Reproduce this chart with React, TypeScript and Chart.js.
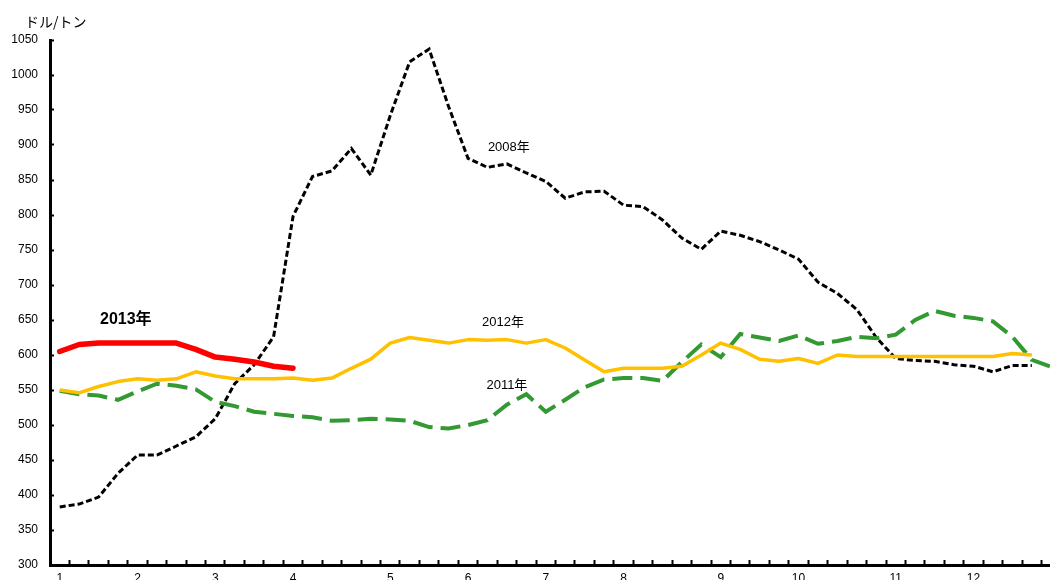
import React, { useEffect, useRef } from "react";
import { Chart, registerables } from "chart.js";

Chart.register(...registerables);

// Weekly price series, US dollars per ton
const WEEK_COUNT = 52;
const monthStartWeeks = [0, 4, 8, 12, 17, 21, 25, 29, 34, 38, 43, 47];
const monthNames = ["1", "2", "3", "4", "5", "6", "7", "8", "9", "10", "11", "12"];

const price2008 = [
  383, 387, 397, 431, 457, 457, 470, 483, 509, 559, 586, 626, 798, 855, 863, 895,
  857, 942, 1019, 1037, 955, 881, 868, 873, 860, 848, 824, 833, 834, 814, 812, 793,
  767, 751, 777, 771, 762, 750, 737, 704, 688, 665, 625, 595, 592, 591, 586, 584,
  576, 585, 585,
];
const price2011 = [
  549, 544, 542, 536, 548, 559, 556, 551, 533, 527, 519, 516, 513, 511, 506, 507,
  509, 508, 506, 497, 495, 500, 507, 529, 544, 519, 536, 554, 565, 567, 567, 563,
  590, 615, 597, 630, 625, 620, 628, 616, 620, 626, 624, 629, 650, 663, 656, 653,
  648, 626, 593, 583,
];
const price2012 = [
  550, 546, 555, 562, 566, 564, 566, 576, 570, 566, 566, 566, 567, 564, 567, 581,
  594, 617, 625, 621, 617, 622, 621, 622, 617, 622, 610, 593, 576, 581, 581, 581,
  584, 600, 617, 608, 594, 591, 595, 588, 600, 598, 598, 598, 598, 598, 598, 598,
  598, 602, 600,
];
const price2013 = [605, 615, 617, 617, 617, 617, 617, 608, 597, 594, 590, 584, 581];

const yMin = 300;
const yMax = 1050;
const yStep = 50;
const unitLabel = "ドル/トン";

// Series captions, anchored in data space (week index, price)
const captions = [
  { text: "2013年", week: 3.4, value: 651, bold: true, size: 16 },
  { text: "2008年", week: 23.1, value: 896, bold: false, size: 13 },
  { text: "2012年", week: 22.8, value: 647, bold: false, size: 13 },
  { text: "2011年", week: 23.0, value: 556, bold: false, size: 13 },
];

const weekLabels = Array.from({ length: WEEK_COUNT }, (_, i) => {
  const m = monthStartWeeks.indexOf(i);
  return m >= 0 ? monthNames[m] : "";
});

const FONT = '"Liberation Sans", Arial, "Noto Sans CJK JP", sans-serif';

const captionPlugin = {
  id: "captions",
  afterDraw(chart: any) {
    const { ctx, scales } = chart;
    ctx.save();
    ctx.fillStyle = "#000";
    ctx.textBaseline = "middle";
    ctx.textAlign = "left";
    ctx.font = `14px "Noto Sans CJK JP", sans-serif`;
    ctx.fillText(unitLabel, 25, 22);
    ctx.textAlign = "center";
    for (const c of captions) {
      ctx.font = `${c.bold ? "bold " : ""}${c.size}px ${FONT}`;
      const x = scales.x.getPixelForValue(c.week);
      const y = scales.y.getPixelForValue(c.value);
      ctx.fillText(c.text, x, y);
    }
    ctx.restore();
  },
};

export default function App() {
  const ref = useRef<HTMLCanvasElement | null>(null);

  useEffect(() => {
    document.body.style.margin = "0";
    const canvas = ref.current;
    if (!canvas) return;
    const chart = new Chart(canvas, {
      type: "line",
      data: {
        labels: weekLabels,
        datasets: [
          {
            label: "2013年",
            data: price2013,
            borderColor: "#ff0000",
            borderWidth: 5.5,
            pointRadius: 0,
            tension: 0,
            borderJoinStyle: "round",
            borderCapStyle: "round",
          },
          {
            label: "2012年",
            data: price2012,
            borderColor: "#ffc000",
            borderWidth: 3.5,
            pointRadius: 0,
            tension: 0,
            borderJoinStyle: "round",
          },
          {
            label: "2011年",
            data: price2011,
            borderColor: "#339933",
            borderWidth: 4,
            borderDash: [20, 8],
            pointRadius: 0,
            tension: 0,
          },
          {
            label: "2008年",
            data: price2008,
            borderColor: "#000000",
            borderWidth: 3,
            borderDash: [6, 3],
            pointRadius: 0,
            tension: 0,
          },
        ],
      },
      options: {
        responsive: false,
        animation: false,
        layout: { padding: { top: 40, right: 3, left: 0, bottom: 0 } },
        plugins: {
          legend: { display: false },
          tooltip: { enabled: false },
          title: { display: false },
        },
        scales: {
          x: {
            type: "category",
            offset: true,
            afterFit: (s: any) => {
              s.height = 27;
            },
            grid: {
              offset: true,
              drawOnChartArea: false,
              drawTicks: true,
              tickLength: -5,
              tickWidth: 2,
              tickColor: "#000",
              color: "#000",
            },
            border: { display: true, color: "#000", width: 3 },
            ticks: {
              autoSkip: false,
              maxRotation: 0,
              minRotation: 0,
              padding: 11,
              color: "#000",
              font: { family: FONT, size: 12 },
            },
          },
          y: {
            min: yMin,
            max: yMax,
            afterFit: (s: any) => {
              s.width = 50;
            },
            grid: {
              drawOnChartArea: false,
              drawTicks: true,
              tickLength: -4,
              tickWidth: 2,
              tickColor: "#000",
              color: "#000",
            },
            border: { display: true, color: "#000", width: 3 },
            ticks: {
              stepSize: yStep,
              padding: 16,
              color: "#000",
              font: { family: FONT, size: 12 },
              callback: (v: any) => String(v),
            },
          },
        },
      },
      plugins: [captionPlugin],
    });
    return () => chart.destroy();
  }, []);

  return (
    <div style={{ width: 1050, height: 580, overflow: "hidden", position: "relative", background: "#fff" }}>
      <canvas ref={ref} width={1064} height={592} style={{ display: "block", width: 1064, height: 592 }} />
    </div>
  );
}
